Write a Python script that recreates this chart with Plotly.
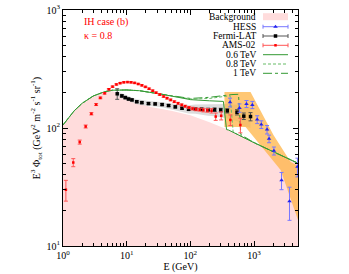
import plotly.graph_objects as go

# ---------------- data ----------------
bgE = [1, 1.5, 2, 3, 4.5, 6, 8, 10, 15, 25, 50, 100, 200, 400, 1000, 2000, 5000]
bgV = [106, 140, 162, 187, 203, 205, 192, 177, 162, 150, 140, 128, 112, 96, 75, 63, 50]

l06E = [1, 1.5, 2, 3, 4.5, 6, 10, 16, 36, 60, 100, 200, 330, 370, 400, 1000, 2000, 5000]
l06V = [106, 140, 162, 187, 203, 209, 210, 207, 193, 182, 174, 170, 168, 97, 96, 75, 63, 50]

l08E = [1, 1.5, 2, 3, 4.5, 6, 10, 16, 36, 60, 100, 200, 300, 420, 470, 1000, 2000, 5000]
l08V = [106, 140, 162, 187, 203, 209, 210, 207, 193, 183, 176, 178, 184, 188, 92, 75, 63, 50]

l10E = [1, 1.5, 2, 3, 4.5, 6, 10, 16, 36, 60, 100, 200, 300, 450, 570, 620, 1000, 2000, 5000]
l10V = [106, 140, 162, 187, 203, 209, 210, 207, 193, 184, 178, 182, 188, 192, 193, 88, 75, 63, 50]

amsE = [1.11, 1.45, 1.83, 2.27, 2.79, 3.31, 3.86, 4.5, 5.25, 6.0, 6.9, 7.9, 9.0, 10.3, 11.7,
        13.3, 15.2, 17.3, 19.7, 22.5, 25.6, 29, 33, 38, 43, 49, 56, 64, 73, 83, 95, 108,
        123, 140, 160, 185, 215, 250, 305, 425, 610]
amsV = [30, 51, 76, 103, 132, 158, 180, 197, 213, 224, 234, 240, 244, 245, 244,
        241, 236, 230, 223, 215, 207, 199, 192, 185, 179, 173, 167, 162, 157, 153, 149, 146,
        144, 143, 142, 141, 140, 125, 127, 117, 106]
amsErr = [6, 4, 3, 3, 3, 3, 3, 3, 3, 3, 3, 3, 3, 3, 3,
          3, 3, 3, 3, 3, 3, 3, 3, 3, 3, 3, 3, 3, 3, 3, 3, 4,
          4, 4, 5, 5, 6, 9, 10, 12, 15]

fermiE = [7.1, 8.4, 9.5, 10.7, 12.1, 14.4, 17.3, 22, 28, 36, 45.5, 58, 74, 94, 120, 150,
          190, 240, 300, 380, 540, 690, 880]
fermiV = [195, 187, 181, 176, 173, 167, 164, 161, 160, 158, 155, 151, 147, 144, 145, 144,
          143, 143, 142, 140, 136, 126, 125]
fermiErr = [20, 4, 4, 3, 3, 3, 3, 3, 3, 3, 3, 3, 3, 3, 3, 4, 4, 5, 5, 6, 7, 8, 10]
fermiSys = [0.05, 0.05, 0.05, 0.05, 0.05, 0.05, 0.05, 0.05, 0.05, 0.05, 0.06, 0.06, 0.07, 0.08,
            0.09, 0.10, 0.11, 0.12, 0.13, 0.14, 0.16, 0.18, 0.20]

hessE = [420, 590, 760, 940, 1120, 1300, 1600, 1720, 2050, 2700, 3600, 4800]
hessV = [165, 148, 160, 157, 118, 107, 97, 81, 64, 36, 24, 47]
hessErr = [14, 12, 11, 11, 9, 8, 8, 6, 5, 6, 7.5, 8.5]

hessBandUpE = [343, 880, 2028, 3757, 5017]
hessBandUpV = [202, 202, 87, 51.5, 47.6]
hessBandLoE = [5017, 2614, 735, 343]
hessBandLoV = [16, 44, 102, 102]

legend_labels = ["Background", "HESS", "Fermi-LAT", "AMS-02", "0.6 TeV", "0.8 TeV", "1 TeV"]

SERIF = "Liberation Serif"
GREEN = "#339933"

fig = go.Figure()

# background fill
fig.add_trace(go.Scatter(x=bgE + bgE[::-1], y=bgV + [1] * len(bgE), fill="toself",
                         fillcolor="#FFDCDC", line=dict(width=0), mode="lines",
                         hoverinfo="skip", showlegend=False))
# Fermi systematic band
fup = [v * (1 + s) for v, s in zip(fermiV, fermiSys)]
flo = [v * (1 - s) for v, s in zip(fermiV, fermiSys)]
fig.add_trace(go.Scatter(x=fermiE + fermiE[::-1], y=fup + flo[::-1], fill="toself",
                         fillcolor="rgba(205,205,205,0.7)", line=dict(width=0), mode="lines",
                         showlegend=False))
# HESS band
fig.add_trace(go.Scatter(x=hessBandUpE + hessBandLoE, y=hessBandUpV + hessBandLoV, fill="toself",
                         fillcolor="rgba(255,180,70,0.75)", line=dict(width=0), mode="lines",
                         showlegend=False))
# model lines
fig.add_trace(go.Scatter(x=l10E, y=l10V, mode="lines", line=dict(color=GREEN, width=1, dash="dashdot"),
                         showlegend=False))
fig.add_trace(go.Scatter(x=l08E, y=l08V, mode="lines", line=dict(color="#66BB66", width=1, dash="3px,2px"),
                         showlegend=False))
fig.add_trace(go.Scatter(x=l06E, y=l06V, mode="lines", line=dict(color=GREEN, width=1),
                         showlegend=False))
# data
fig.add_trace(go.Scatter(x=fermiE, y=fermiV, mode="markers",
                         marker=dict(symbol="square", size=3.5, color="black"),
                         error_y=dict(type="data", array=fermiErr, color="#555555", thickness=1, width=2),
                         showlegend=False))
fig.add_trace(go.Scatter(x=amsE, y=amsV, mode="markers",
                         marker=dict(symbol="square", size=2.5, color="red"),
                         error_y=dict(type="data", array=amsErr, color="#FF5555", thickness=1, width=2),
                         showlegend=False))
fig.add_trace(go.Scatter(x=hessE, y=hessV, mode="markers",
                         marker=dict(symbol="triangle-up", size=4, color="#2222EE"),
                         error_y=dict(type="data", array=hessErr, color="#7777FF", thickness=1, width=2),
                         showlegend=False))

# ---------------- legend (manual, gnuplot style) ----------------
L, R, T, B = 63, 298, 10, 246
def px(x): return (x - L) / (R - L)
def py(y): return (B - y) / (B - T)

rows = [16.7, 26.7, 36, 45.3, 54.7, 64, 73.3]
sx0, sx1 = px(263), px(288)
scx = (sx0 + sx1) / 2
for lab, ry in zip(legend_labels, rows):
    fig.add_annotation(x=px(257), y=py(ry), xref="paper", yref="paper", text=lab,
                       showarrow=False, xanchor="right", yanchor="middle", borderpad=0,
                       font=dict(family=SERIF, size=9.5, color="black"))
fig.add_shape(type="rect", xref="paper", yref="paper", x0=sx0, x1=sx1,
              y0=py(rows[0] + 3.5), y1=py(rows[0] - 3.5), fillcolor="#FFDCDC", line=dict(width=0))
for ry, col, ecol, sym, sz in [(rows[1], "#2222EE", "#7777FF", "triangle-up", 4),
                               (rows[2], "black", "#555555", "square", 3.5),
                               (rows[3], "red", "#FF5555", "square", 2.5)]:
    fig.add_trace(go.Scatter(x=[scx], y=[py(ry)], xaxis="x2", yaxis="y2", mode="markers",
                             marker=dict(symbol=sym, size=sz, color=col),
                             error_x=dict(type="data", array=[(sx1 - sx0) / 2], color=ecol,
                                          thickness=1, width=2), showlegend=False))
for ry, col, dash in [(rows[4], GREEN, "solid"), (rows[5], "#66BB66", "3px,2px"), (rows[6], GREEN, "dashdot")]:
    fig.add_shape(type="line", xref="paper", yref="paper", x0=sx0, x1=sx1, y0=py(ry), y1=py(ry),
                  line=dict(color=col, width=1, dash=dash))

fig.add_annotation(x=px(83), y=py(21.7), xref="paper", yref="paper", text="IH case (b)",
                   showarrow=False, xanchor="left", yanchor="middle", borderpad=0,
                   font=dict(family=SERIF, size=10, color="red"))
fig.add_annotation(x=px(83), y=py(35), xref="paper", yref="paper", text="κ = 0.8",
                   showarrow=False, xanchor="left", yanchor="middle", borderpad=0,
                   font=dict(family=SERIF, size=10, color="red"))

xminor = [m * 10 ** k for k in range(0, 4) for m in range(2, 10)]
yminor = [m * 10 ** k for k in range(1, 3) for m in range(2, 10)]

W, H = 349, 274
fig.update_layout(
    width=W, height=H,
    margin=dict(l=L, r=W - R, t=T, b=H - B),
    paper_bgcolor="white", plot_bgcolor="white",
    font=dict(family=SERIF, size=10, color="black"),
    showlegend=False,
    xaxis=dict(type="log", range=[0, 3.69], showgrid=False, zeroline=False, automargin=False,
               showline=True, linecolor="black", linewidth=1, mirror="allticks",
               ticks="inside", ticklen=5, tickcolor="black",
               tickvals=[1, 10, 100, 1000],
               ticktext=["10<sup>0</sup>", "10<sup>1</sup>", "10<sup>2</sup>", "10<sup>3</sup>"],
               minor=dict(ticks="inside", ticklen=3, tickcolor="black", tickvals=xminor, showgrid=False),
               title=dict(text="E (GeV)", standoff=2, font=dict(size=10))),
    yaxis=dict(type="log", range=[1, 3], showgrid=False, zeroline=False, automargin=False,
               showline=True, linecolor="black", linewidth=1, mirror="allticks",
               ticks="inside", ticklen=5, tickcolor="black",
               tickvals=[10, 100, 1000],
               ticktext=["10<sup>1</sup>", "10<sup>2</sup>", "10<sup>3</sup>"],
               minor=dict(ticks="inside", ticklen=3, tickcolor="black", tickvals=yminor, showgrid=False),
               title=dict(text="E<sup>3</sup> Φ<sub>tot</sub> (GeV<sup>2</sup> m<sup>-2</sup> s<sup>-1</sup> sr<sup>-1</sup>)",
                          standoff=4, font=dict(size=10))),
    xaxis2=dict(overlaying="x", range=[0, 1], visible=False),
    yaxis2=dict(overlaying="y", range=[0, 1], visible=False),
)

fig.write_html("out.html", config={"displayModeBar": False},
               post_script="document.body.style.margin='0px';")
